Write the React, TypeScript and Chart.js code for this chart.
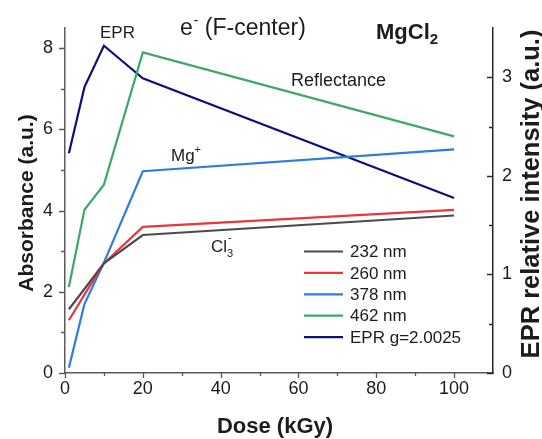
import React, { useEffect, useRef } from "react";
import { Chart, registerables } from "chart.js";

Chart.register(...registerables);

// Dose points (kGy)
const doses = [1, 5, 10, 20, 100];

// Absorbance at each wavelength (a.u.)
const abs232 = [1.57, 2.07, 2.7, 3.4, 3.88];
const abs260 = [1.3, 1.93, 2.7, 3.6, 4.02];
const abs378 = [0.13, 1.7, 2.72, 4.97, 5.51];
const abs462 = [2.12, 4.02, 4.64, 7.9, 5.83];

// EPR relative intensity, g = 2.0025 (a.u.)
const eprIntensity = [2.23, 2.9, 3.32, 2.99, 1.775];

const seriesNames = ["232 nm", "260 nm", "378 nm", "462 nm", "EPR g=2.0025"];
const seriesColors = ["#4b4b4b", "#e8383c", "#2b7ddf", "#3ca86c", "#0d1078"];

// Axis ticks
const xMajor = [0, 20, 40, 60, 80, 100];
const xMinor = [10, 30, 50, 70, 90];
const yMajor = [0, 2, 4, 6, 8];
const yMinor = [1, 3, 5, 7];
const y1Major = [0, 1, 2, 3];
const y1Minor = [0.5, 1.5, 2.5];

const FONT = '"Liberation Sans", Arial, Helvetica, sans-serif';
const TEXT = "#1c1c1c";
const AXIS_LEFT = "#5a5a5a";
const AXIS_RIGHT = "#2a2a2a";

const toPoints = (ys: number[]) => doses.map((d, i) => ({ x: d, y: ys[i] }));

// Draws text with smaller raised/lowered parts, returns the x after drawing
function drawRich(
  ctx: CanvasRenderingContext2D,
  parts: { t: string; size: number; dy: number; bold?: boolean; dx?: number }[],
  x: number,
  y: number
) {
  let cx = x;
  for (const p of parts) {
    ctx.font = `${p.bold ? "bold " : ""}${p.size}px ${FONT}`;
    cx += p.dx || 0;
    ctx.fillText(p.t, cx, y + p.dy);
    cx += ctx.measureText(p.t).width;
  }
  return cx;
}

const decorations = {
  id: "decorations",
  afterDraw(chart: any) {
    const { ctx, chartArea } = chart;
    const x = chart.scales.x;
    const y = chart.scales.y;
    const y1 = chart.scales.y1;
    const { left, right, bottom } = chartArea;
    ctx.save();

    // tick marks
    ctx.lineWidth = 1.3;
    ctx.strokeStyle = AXIS_LEFT;
    ctx.beginPath();
    for (const v of xMajor) {
      const px = Math.round(x.getPixelForValue(v)) + 0.5;
      ctx.moveTo(px, bottom);
      ctx.lineTo(px, bottom + 5);
    }
    for (const v of xMinor) {
      const px = Math.round(x.getPixelForValue(v)) + 0.5;
      ctx.moveTo(px, bottom);
      ctx.lineTo(px, bottom + 3);
    }
    for (const v of yMajor) {
      const py = Math.round(y.getPixelForValue(v)) + 0.5;
      ctx.moveTo(left, py);
      ctx.lineTo(left - 6, py);
    }
    for (const v of yMinor) {
      const py = Math.round(y.getPixelForValue(v)) + 0.5;
      ctx.moveTo(left, py);
      ctx.lineTo(left - 4, py);
    }
    ctx.stroke();

    ctx.strokeStyle = AXIS_RIGHT;
    ctx.beginPath();
    for (const v of y1Major) {
      const py = Math.round(y1.getPixelForValue(v)) + 0.5;
      ctx.moveTo(right, py);
      ctx.lineTo(right - 6, py);
    }
    for (const v of y1Minor) {
      const py = Math.round(y1.getPixelForValue(v)) + 0.5;
      ctx.moveTo(right, py);
      ctx.lineTo(right - 4, py);
    }
    ctx.stroke();

    // legend
    const legX = 304;
    const legY = 251.5;
    const legStep = 21.4;
    ctx.textBaseline = "middle";
    ctx.textAlign = "left";
    ctx.font = `17px ${FONT}`;
    seriesNames.forEach((name, i) => {
      const ly = legY + i * legStep;
      ctx.strokeStyle = seriesColors[i];
      ctx.lineWidth = 2.2;
      ctx.beginPath();
      ctx.moveTo(legX, ly);
      ctx.lineTo(legX + 39, ly);
      ctx.stroke();
      ctx.fillStyle = TEXT;
      ctx.fillText(name, legX + 46, ly + 1);
    });

    // annotations
    ctx.fillStyle = TEXT;
    ctx.textBaseline = "alphabetic";
    ctx.textAlign = "left";
    ctx.font = `17px ${FONT}`;
    ctx.fillText("EPR", 100, 38);
    ctx.font = `18px ${FONT}`;
    ctx.fillText("Reflectance", 291, 86);

    drawRich(
      ctx,
      [
        { t: "e", size: 23, dy: 0 },
        { t: "-", size: 14, dy: -10, dx: 1 },
        { t: " (F-center)", size: 23, dy: 0 },
      ],
      180,
      35
    );
    drawRich(
      ctx,
      [
        { t: "MgCl", size: 22, dy: 0, bold: true },
        { t: "2", size: 15, dy: 5, bold: true },
      ],
      376,
      39
    );
    drawRich(
      ctx,
      [
        { t: "Mg", size: 17, dy: 0 },
        { t: "+", size: 11, dy: -8 },
      ],
      171,
      161
    );
    ctx.font = `17px ${FONT}`;
    ctx.fillText("Cl", 211, 252);
    ctx.font = `11px ${FONT}`;
    ctx.fillText("3", 227, 257);
    ctx.fillText("-", 228, 241);

    // axis titles
    ctx.font = `bold 22px ${FONT}`;
    ctx.textAlign = "center";
    ctx.fillText("Dose (kGy)", 275, 433);

    ctx.save();
    ctx.font = `bold 21px ${FONT}`;
    ctx.translate(33, 203);
    ctx.rotate(-Math.PI / 2);
    ctx.fillText("Absorbance (a.u.)", 0, 0);
    ctx.restore();

    ctx.save();
    ctx.font = `bold 25.5px ${FONT}`;
    ctx.translate(539, 194);
    ctx.rotate(-Math.PI / 2);
    ctx.fillText("EPR relative intensity (a.u.)", 0, 0);
    ctx.restore();

    ctx.restore();
  },
};

export default function App() {
  const canvasRef = useRef<HTMLCanvasElement | null>(null);

  useEffect(() => {
    const canvas = canvasRef.current;
    if (!canvas) return;
    const absSeries = [abs232, abs260, abs378, abs462];
    const datasets: any[] = absSeries.map((s, i) => ({
      label: seriesNames[i],
      data: toPoints(s),
      borderColor: seriesColors[i],
      borderWidth: 2.2,
      pointRadius: 0,
      fill: false,
      yAxisID: "y",
    }));
    datasets.push({
      label: seriesNames[4],
      data: toPoints(eprIntensity),
      borderColor: seriesColors[4],
      borderWidth: 2.2,
      pointRadius: 0,
      fill: false,
      yAxisID: "y1",
    });

    const tickFont = { family: FONT, size: 18 };

    const chart = new Chart(canvas, {
      type: "line",
      data: { datasets },
      plugins: [decorations],
      options: {
        animation: false,
        responsive: false,
        devicePixelRatio: 1,
        layout: { padding: { top: 28, left: 0, right: 0, bottom: 0 } },
        plugins: { legend: { display: false }, tooltip: { enabled: false } },
        scales: {
          x: {
            type: "linear",
            min: 0,
            max: 110,
            afterBuildTicks: (s: any) => {
              s.ticks = xMajor.map((v) => ({ value: v }));
            },
            afterFit: (s: any) => {
              s.height = 66;
            },
            ticks: { font: tickFont, color: TEXT, padding: 5, maxRotation: 0, autoSkip: false },
            grid: { display: false, drawTicks: false },
            border: { display: true, color: AXIS_LEFT, width: 1.5 },
          },
          y: {
            type: "linear",
            position: "left",
            min: 0,
            max: 8.5,
            afterBuildTicks: (s: any) => {
              s.ticks = yMajor.map((v) => ({ value: v }));
            },
            afterFit: (s: any) => {
              s.width = 65;
            },
            ticks: { font: tickFont, color: TEXT, padding: 12 },
            grid: { display: false, drawTicks: false },
            border: { display: true, color: AXIS_LEFT, width: 1.5 },
          },
          y1: {
            type: "linear",
            position: "right",
            min: 0,
            max: 3.5,
            afterBuildTicks: (s: any) => {
              s.ticks = y1Major.map((v) => ({ value: v }));
            },
            afterFit: (s: any) => {
              s.width = 49;
            },
            ticks: { font: tickFont, color: TEXT, padding: 9 },
            grid: { display: false, drawTicks: false },
            border: { display: true, color: AXIS_RIGHT, width: 1.5 },
          },
        },
      },
    });
    return () => chart.destroy();
  }, []);

  return (
    <div style={{ position: "fixed", left: 0, top: 0, width: 542, height: 439, background: "#fff" }}>
      <canvas ref={canvasRef} width={542} height={439} style={{ display: "block" }} />
    </div>
  );
}
